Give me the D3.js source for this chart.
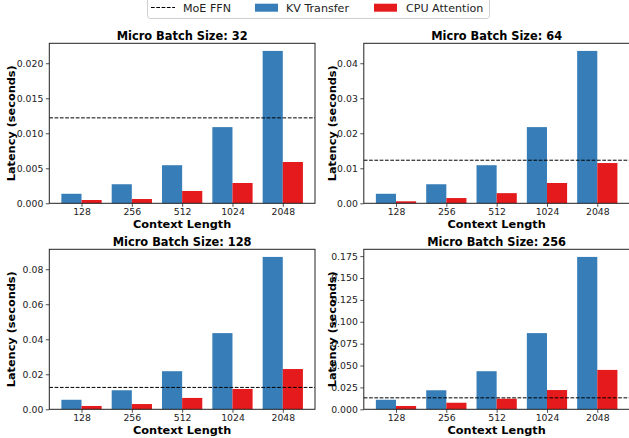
<!DOCTYPE html>
<html>
<head>
<meta charset="utf-8">
<script src="https://cdn.jsdelivr.net/npm/d3@7"></script>
<style>
  html, body { margin: 0; padding: 0; background: #fff; }
  svg { display: block; font-family: "DejaVu Sans", sans-serif; }
</style>
</head>
<body>
<svg id="chart" width="629" height="438"></svg>
<script>
// Latency of KV transfer vs CPU attention, one panel per micro batch size
const batchSizes = [32, 64, 128, 256];
const contextLengths = ["128", "256", "512", "1024", "2048"];

const kvTransfer = [
  [0.00136, 0.00272, 0.00544, 0.01088, 0.02176],
  [0.00272, 0.00544, 0.01088, 0.02176, 0.04352],
  [0.00544, 0.01088, 0.02176, 0.04352, 0.08704],
  [0.01088, 0.02176, 0.04352, 0.08704, 0.17408]
];
const cpuAttention = [
  [0.00047, 0.00061, 0.00176, 0.0029, 0.0059],
  [0.00057, 0.0015, 0.0029, 0.0058, 0.0115],
  [0.0019, 0.003, 0.0065, 0.0116, 0.023],
  [0.0038, 0.0075, 0.0121, 0.022, 0.045]
];
const moeFfn = [0.0122, 0.0123, 0.0125, 0.0131];

const yTicks = [
  [0, 0.005, 0.010, 0.015, 0.020],
  [0, 0.01, 0.02, 0.03, 0.04],
  [0, 0.02, 0.04, 0.06, 0.08],
  [0, 0.025, 0.05, 0.075, 0.1, 0.125, 0.15, 0.175]
];
const yTickDecimals = [3, 2, 2, 3];

const seriesNames = ["MoE FFN", "KV Transfer", "CPU Attention"];
const colors = { kv: "#377eb8", cpu: "#e41a1c" };

const svg = d3.select("#chart");

// panel frames: [left, top, width, height]
const panelW = 265.7, panelH = 160;
const lefts = [49.3, 363.8], tops = [43.3, 249.3];

const barW = 0.4;

batchSizes.forEach((bs, i) => {
  const x0 = lefts[i % 2], y0 = tops[Math.floor(i / 2)];
  const g = svg.append("g").attr("transform", `translate(${x0},${y0})`);

  const x = d3.scaleLinear().domain([-0.64, 4.64]).range([0, panelW]);
  const ymax = d3.max(kvTransfer[i]) * 1.05;
  const y = d3.scaleLinear().domain([0, ymax]).range([panelH, 0]);

  // bars
  g.selectAll("rect.kv").data(kvTransfer[i]).join("rect")
    .attr("class", "kv")
    .attr("x", (d, j) => x(j - barW))
    .attr("width", x(barW) - x(0))
    .attr("y", d => y(d))
    .attr("height", d => y(0) - y(d))
    .attr("fill", colors.kv);
  g.selectAll("rect.cpu").data(cpuAttention[i]).join("rect")
    .attr("class", "cpu")
    .attr("x", (d, j) => x(j))
    .attr("width", x(barW) - x(0))
    .attr("y", d => y(d))
    .attr("height", d => y(0) - y(d))
    .attr("fill", colors.cpu);

  // MoE FFN reference line
  g.append("line")
    .attr("x1", 0).attr("x2", panelW)
    .attr("y1", y(moeFfn[i])).attr("y2", y(moeFfn[i]))
    .attr("stroke", "#000").attr("stroke-width", 1)
    .attr("stroke-dasharray", "3.7,1.6");

  // axes
  const xAxis = d3.axisBottom(x)
    .tickValues(d3.range(contextLengths.length))
    .tickFormat(j => contextLengths[j])
    .tickSize(3.5).tickPadding(1.5);
  const gx = g.append("g").attr("transform", `translate(0,${panelH})`).call(xAxis);

  const yAxis = d3.axisLeft(y)
    .tickValues(yTicks[i])
    .tickFormat(d3.format(`.${yTickDecimals[i]}f`))
    .tickSize(3.5).tickPadding(2.5);
  const gy = g.append("g").call(yAxis);

  [gx, gy].forEach(a => {
    a.select(".domain").remove();
    a.selectAll(".tick line").attr("stroke", "#222").attr("stroke-width", 0.8);
    a.selectAll(".tick text").attr("fill", "#222")
      .style("font-family", "DejaVu Sans").style("font-size", "9.3px");
  });

  // frame
  g.append("rect").attr("x", 0).attr("y", 0)
    .attr("width", panelW).attr("height", panelH)
    .attr("fill", "none").attr("stroke", "#222").attr("stroke-width", 1);

  // title and axis labels
  g.append("text")
    .attr("x", panelW / 2).attr("y", -3.6)
    .attr("text-anchor", "middle")
    .style("font-size", "11.4px").style("font-weight", "bold")
    .text(`Micro Batch Size: ${bs}`);
  g.append("text")
    .attr("x", panelW / 2).attr("y", panelH + 24.8)
    .attr("text-anchor", "middle")
    .style("font-size", "11.3px").style("font-weight", "bold")
    .text("Context Length");
  const ylx = i % 2 === 0 ? -38.3 : -32.3;
  g.append("text")
    .attr("transform", `translate(${ylx + 4},${panelH / 2}) rotate(-90)`)
    .attr("text-anchor", "middle")
    .style("font-size", "11.3px").style("font-weight", "bold")
    .text("Latency (seconds)");
});

// legend
const lg = svg.append("g");
lg.append("rect")
  .attr("x", 147.5).attr("y", -4).attr("width", 342).attr("height", 22.5)
  .attr("rx", 3).attr("fill", "#fff").attr("stroke", "#cfcfcf").attr("stroke-width", 1);
lg.append("line")
  .attr("x1", 151).attr("x2", 175).attr("y1", 7.5).attr("y2", 7.5)
  .attr("stroke", "#000").attr("stroke-width", 1).attr("stroke-dasharray", "3.7,1.6");
lg.append("rect").attr("x", 255).attr("y", 3.7).attr("width", 23).attr("height", 8)
  .attr("fill", colors.kv);
lg.append("rect").attr("x", 374).attr("y", 3.7).attr("width", 23).attr("height", 8)
  .attr("fill", colors.cpu);
[[183, seriesNames[0]], [286, seriesNames[1]], [406, seriesNames[2]]].forEach(([lx, t]) => {
  lg.append("text").attr("x", lx).attr("y", 11.6)
    .style("font-size", "11.1px").attr("fill", "#222").text(t);
});
</script>
</body>
</html>
